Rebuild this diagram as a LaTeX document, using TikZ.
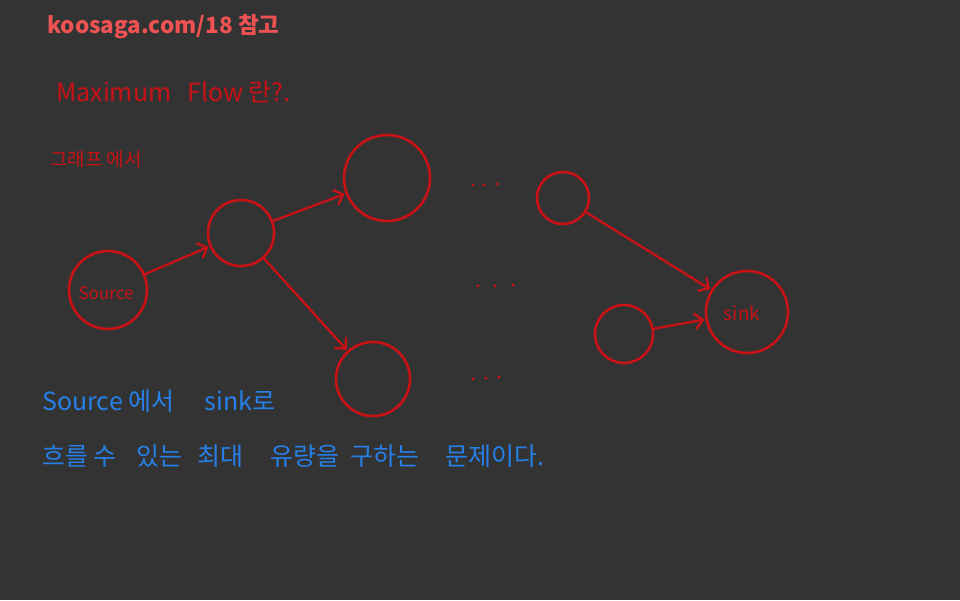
\documentclass[tikz,border=0pt]{standalone}
\usepackage{fontspec}
\setmainfont{Noto Sans CJK KR}
\newfontfamily\cjk{Noto Sans CJK KR}
\usetikzlibrary{arrows.meta}
\definecolor{bg}{RGB}{51,51,51}
\definecolor{pen}{RGB}{200,18,22}
\definecolor{title}{RGB}{238,82,82}
\definecolor{bluepen}{RGB}{38,128,232}
\tikzset{
  vtx/.style={circle, draw=pen, line width=2.6pt, inner sep=0pt},
  edge/.style={draw=pen, line width=2.3pt, -{Straight Barb[length=8pt,width=16pt,line width=2.3pt]}, shorten >=1pt},
  redtxt/.style={text=pen, anchor=base west, inner sep=0pt, font=\cjk\fontsize{25}{28}\selectfont},
  bluetxt/.style={text=bluepen, anchor=base west, inner sep=0pt, font=\cjk\fontsize{25}{28}\selectfont},
  dot/.style={fill=pen}
}
\begin{document}
\begin{tikzpicture}[x=1pt,y=-1pt]
\fill[bg] (0,0) rectangle (960,600);
\useasboundingbox (0,0) rectangle (960,600);

\node[anchor=base west, inner sep=0pt, text=title, font=\cjk\bfseries\fontsize{22.5}{26}\selectfont] (ttl) at (47,33) {koosaga.com/18 참고};

\node[redtxt] (q) at (56,101) {Maximum\hspace{16pt}Flow 란?.};
\node[redtxt, font=\cjk\fontsize{19}{22}\selectfont] (g) at (50,166) {그래프 에서};

\node[vtx, minimum size=78pt] (src) at (108,290) {};
\node[text=pen, font=\cjk\fontsize{17}{18}\selectfont] (srcl) at (106,293) {Source};
\node[vtx, minimum size=66pt] (n1) at (241,233) {};
\node[vtx, minimum size=86pt] (n2) at (387,178) {};
\node[vtx, minimum size=74pt] (n3) at (373,379) {};
\node[vtx, minimum size=52pt] (n4) at (563,198) {};
\node[vtx, minimum size=58pt] (n5) at (624,334) {};
\node[vtx, minimum size=82pt] (snk) at (747,312) {};
\node[text=pen, font=\cjk\fontsize{19}{20}\selectfont] (snkl) at (742,313) {sink};

\draw[edge] (src) -- (n1);
\draw[edge] (n1) -- (n2);
\draw[edge] (n1) -- (n3);
\draw[edge] (n4) -- (snk);
\draw[edge] (n5) -- (snk);

\foreach \x/\y in {473/185,484/185,497/184, 478/286,495/286,513/285, 473/379,486/378,499/377}
  \fill[dot] (\x,\y) circle (1.7pt);

\node[bluetxt] (l1) at (42,410) {Source 에서\hspace{30pt}sink로};
\node[bluetxt] (w1) at (42,465) {흐를 수};
\node[bluetxt] (w2) at (136,465) {있는};
\node[bluetxt] (w3) at (197,465) {최대};
\node[bluetxt] (w4) at (270,465) {유량을};
\node[bluetxt] (w5) at (350,465) {구하는};
\node[bluetxt] (w6) at (445,465) {문제이다.};
\end{tikzpicture}
\end{document}
